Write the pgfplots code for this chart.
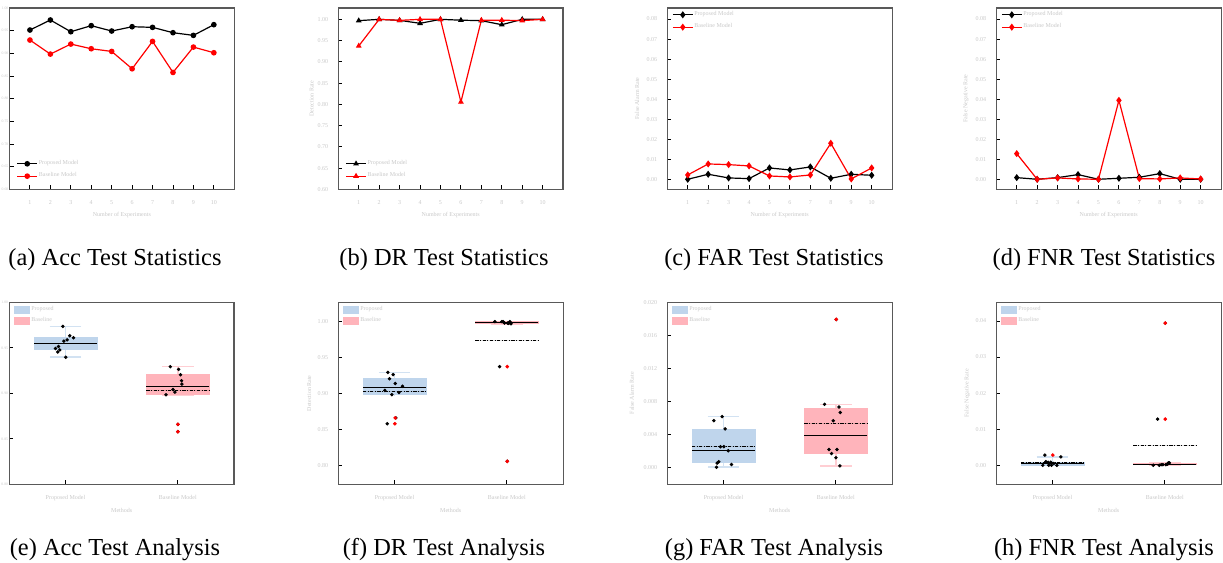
\documentclass[border=0pt]{standalone}
\usepackage{fontspec}
\setmainfont{Liberation Serif}
\usepackage{pgfplots}
\pgfplotsset{compat=1.18}
\usepgfplotslibrary{statistics}

\definecolor{boxblue}{RGB}{191,213,236}
\definecolor{whiskblue}{RGB}{210,226,242}
\definecolor{boxpink}{RGB}{255,180,187}
\definecolor{whiskpink}{RGB}{255,206,211}
\definecolor{faint}{RGB}{200,200,200}

\newcommand\tinyfont{\fontsize{3}{3.6}\selectfont}
\newcommand\microfont{\fontsize{1.9}{2.3}\selectfont}
\newcommand\capfont{\fontsize{12.2}{14}\selectfont}

\pgfplotsset{
  panel/.style={
    scale only axis, width=112.4pt, anchor=south west,
    axis line style={black!65, line width=0.6pt},
    tick align=inside, major tick length=2pt,
    tick style={black, line width=0.45pt},
    tick pos=left,
    scaled y ticks=false,
    ticklabel style={font=\tinyfont, text=faint},
    /pgf/number format/assume math mode=true,
    xticklabel style={yshift=-2pt},
    yticklabel style={xshift=-1.5pt},
    label style={font=\tinyfont, text=faint},
    legend style={font=\tinyfont, text=faint, draw=none, fill=none},
    legend cell align=left,
  },
  ytwo/.style={yticklabel style={/pgf/number format/fixed, /pgf/number format/precision=2,
    /pgf/number format/fixed zerofill}},
  ythree/.style={yticklabel style={/pgf/number format/fixed, /pgf/number format/precision=3,
    /pgf/number format/fixed zerofill}},
  edge/.style={yticklabel style={font=\microfont, inner sep=0pt, xshift=1.1pt}},
  lines/.style={panel, height=90.65pt,
    xmin=0, xmax=11, xtick={1,...,10},
    xlabel={Number of Experiments},
    xlabel style={at={(axis description cs:0.5,-0.143)}, anchor=center},
    ylabel style={at={(axis description cs:-0.118,0.5)}, anchor=center},
    legend image code/.code={\draw[mark repeat=2,mark phase=2] plot coordinates {(0pt,0pt)(5pt,0pt)(10pt,0pt)};},
    legend style={row sep=1.6pt, inner sep=0pt, nodes={inner sep=0.5pt}},
  },
  boxes/.style={panel, height=91pt,
    xmin=0.5, xmax=2.5, xtick={1,2},
    xticklabels={Proposed Model, Baseline Model},
    xlabel={Methods},
    xlabel style={at={(axis description cs:0.5,-0.141)}, anchor=center},
    ylabel style={at={(axis description cs:-0.13,0.5)}, anchor=center},
    legend image code/.code={\path[#1, draw=none] (0pt,-2pt) rectangle (8.3pt,2pt);},
    legend style={at={(0.018,0.985)}, anchor=north west, row sep=1pt, inner sep=0pt, nodes={inner sep=0.5pt}},
    boxplot/draw direction=y,
    boxplot/draw/average/.code={\draw[black, line width=0.5pt, dash pattern=on 1.6pt off 0.8pt on 0.4pt off 0.8pt]
      (boxplot box cs:\pgfplotsboxplotvalue{average},0) -- (boxplot box cs:\pgfplotsboxplotvalue{average},1);},
    boxplot/every median/.style={black, line width=0.6pt},
    boxplot/box extend=0.56, boxplot/whisker extend=0.28,
  },
  bluebox/.style={forget plot, fill=boxblue, draw=boxblue,
    boxplot/every whisker/.style={draw=whiskblue, line width=0.8pt}},
  pinkbox/.style={forget plot, fill=boxpink, draw=boxpink,
    boxplot/every whisker/.style={draw=whiskpink, line width=0.8pt}},
  pts/.style={forget plot, only marks, mark=*, mark size=0.65pt, black},
  outl/.style={forget plot, only marks, mark=*, mark size=0.7pt, red},
  blk/.style={black, line width=0.6pt, mark size=1.1pt},
  rd/.style={red, line width=0.6pt, mark size=1.1pt},
}

\begin{document}
\begin{tikzpicture}
\useasboundingbox (0,0) rectangle (611.5pt,281.5pt);

% ---------- top row: test statistics ----------
\begin{axis}[lines, ytwo, edge, at={(4.75pt,186.85pt)},
  ymin=0.6, ymax=1.0, ytick={0.6,0.65,0.7,0.75,0.8,0.85,0.9,0.95,1.0},
  legend style={at={(0.03,0.045)}, anchor=south west}]
\addplot[blk, mark=*] coordinates {(1,0.9514)(2,0.9735)(3,0.9477)(4,0.9610)(5,0.9492)(6,0.9587)(7,0.9573)(8,0.9455)(9,0.9396)(10,0.9632)};
\addlegendentry{Proposed Model}
\addplot[rd, mark=*] coordinates {(1,0.9293)(2,0.8983)(3,0.9204)(4,0.9101)(5,0.9042)(6,0.8659)(7,0.9263)(8,0.8578)(9,0.9138)(10,0.9013)};
\addlegendentry{Baseline Model}
\end{axis}

\begin{axis}[lines, ytwo, at={(169.15pt,186.85pt)},
  ymin=0.6, ymax=1.0267, ytick={0.6,0.65,0.7,0.75,0.8,0.85,0.9,0.95,1.0},
  ylabel={Detection Rate},
  legend style={at={(0.03,0.045)}, anchor=south west}]
\addplot[blk, mark=triangle*] coordinates {(1,0.9969)(2,1.0)(3,0.9976)(4,0.9906)(5,1.0)(6,0.998)(7,0.9969)(8,0.9874)(9,1.0)(10,1.0)};
\addlegendentry{Proposed Model}
\addplot[rd, mark=triangle*] coordinates {(1,0.9373)(2,1.0)(3,0.9976)(4,1.0)(5,1.0)(6,0.8055)(7,0.998)(8,0.998)(9,0.997)(10,1.0)};
\addlegendentry{Baseline Model}
\end{axis}

\begin{axis}[lines, ytwo, at={(333.65pt,186.85pt)},
  ymin=-0.005, ymax=0.0855, ytick={0,0.01,0.02,0.03,0.04,0.05,0.06,0.07,0.08},
  ylabel={False Alarm Rate},
  ylabel style={at={(axis description cs:-0.135,0.5)}},
  legend style={at={(0.02,0.99)}, anchor=north west}]
\addplot[blk, mark=diamond*, mark size=1.3pt] coordinates {(1,0)(2,0.0025)(3,0.00067)(4,0.00033)(5,0.00566)(6,0.00466)(7,0.00616)(8,0.0005)(9,0.0025)(10,0.002)};
\addlegendentry{Proposed Model}
\addplot[rd, mark=diamond*, mark size=1.3pt] coordinates {(1,0.00216)(2,0.00765)(3,0.00732)(4,0.00666)(5,0.00166)(6,0.00116)(7,0.00216)(8,0.01797)(9,0.00017)(10,0.00566)};
\addlegendentry{Baseline Model}
\end{axis}

\begin{axis}[lines, ytwo, at={(498.15pt,186.85pt)},
  ymin=-0.005, ymax=0.0855, ytick={0,0.01,0.02,0.03,0.04,0.05,0.06,0.07,0.08},
  ylabel={False Negative Rate},
  ylabel style={at={(axis description cs:-0.135,0.5)}},
  legend style={at={(0.02,0.99)}, anchor=north west}]
\addplot[blk, mark=diamond*, mark size=1.3pt] coordinates {(1,0.00083)(2,0)(3,0.00083)(4,0.00233)(5,0)(6,0.0005)(7,0.001)(8,0.00283)(9,0)(10,0)};
\addlegendentry{Proposed Model}
\addplot[rd, mark=diamond*, mark size=1.3pt] coordinates {(1,0.0128)(2,0)(3,0.00067)(4,0.00017)(5,0)(6,0.0394)(7,0.00033)(8,0.00017)(9,0.00067)(10,0.00017)};
\addlegendentry{Baseline Model}
\end{axis}

% ---------- bottom row: test analysis ----------
\begin{axis}[boxes, ytwo, edge, at={(4.65pt,39.35pt)},
  ymin=0.8, ymax=1.0, ytick={0.8,0.85,0.9,0.95,1.0}]
\addlegendimage{fill=boxblue}\addlegendentry{Proposed}
\addlegendimage{fill=boxpink}\addlegendentry{Baseline}
\addplot[bluebox, boxplot prepared={draw position=1, lower whisker=0.9396, lower quartile=0.9481,
  median=0.9544, average=0.9547, upper quartile=0.9611, upper whisker=0.9735}] coordinates {};
\addplot[pinkbox, boxplot prepared={draw position=2, lower whisker=0.8983, lower quartile=0.8985,
  median=0.9078, average=0.9027, upper quartile=0.9213, upper whisker=0.9293}] coordinates {};
\addplot[pts] coordinates {(0.976,0.9735)(1.038,0.9632)(1.071,0.9610)(1.015,0.9587)(0.985,0.9573)
  (0.938,0.9514)(0.911,0.9492)(0.949,0.9477)(0.931,0.9455)(1.003,0.9396)};
\addplot[pts] coordinates {(1.932,0.9293)(2.006,0.9263)(2.024,0.9204)(2.033,0.9138)(2.036,0.9101)
  (1.956,0.9042)(1.974,0.9013)(1.894,0.8983)(2.0,0.8659)(2.0,0.8578)};
\addplot[outl] coordinates {(2.0,0.8659)(2.0,0.8578)};
\end{axis}

\begin{axis}[boxes, ytwo, at={(169.15pt,39.35pt)},
  ymin=0.7735, ymax=1.0269, ytick={0.8,0.85,0.9,0.95,1.0},
  ylabel={Detection Rate}]
\addlegendimage{fill=boxblue}\addlegendentry{Proposed}
\addlegendimage{fill=boxpink}\addlegendentry{Baseline}
\addplot[bluebox, boxplot prepared={draw position=1, lower whisker=0.8983, lower quartile=0.8985,
  median=0.9078, average=0.9027, upper quartile=0.9213, upper whisker=0.9293}] coordinates {};
\addplot[pinkbox, boxplot prepared={draw position=2, lower whisker=0.997, lower quartile=0.9970,
  median=0.999, average=0.9733, upper quartile=1.0, upper whisker=1.0}] coordinates {};
\addplot[pts] coordinates {(0.941,0.9293)(0.988,0.9263)(0.955,0.9204)(1.006,0.9138)(1.071,0.9101)
  (0.914,0.9042)(1.039,0.9013)(0.976,0.8983)(1.012,0.8659)(0.935,0.8578)};
\addplot[pts] coordinates {(1.893,1.0)(1.955,1.0)(1.967,1.0)(2.027,1.0)(1.979,0.998)
  (2.006,0.998)(2.015,0.9976)(2.036,0.997)(1.935,0.9373)(2.003,0.8055)};
\addplot[outl] coordinates {(1.006,0.8659)(1.003,0.8578)(2.003,0.9373)(2.003,0.8055)};
\end{axis}

\begin{axis}[boxes, ythree, at={(333.65pt,39.35pt)},
  ymin=-0.00207, ymax=0.02005, ytick={0,0.004,0.008,0.012,0.016,0.02},
  ylabel={False Alarm Rate},
  ylabel style={at={(axis description cs:-0.158,0.5)}}]
\addlegendimage{fill=boxblue}\addlegendentry{Proposed}
\addlegendimage{fill=boxpink}\addlegendentry{Baseline}
\addplot[bluebox, boxplot prepared={draw position=1, lower whisker=0, lower quartile=0.00057,
  median=0.00207, average=0.0025, upper quartile=0.00462, upper whisker=0.00616}] coordinates {};
\addplot[pinkbox, boxplot prepared={draw position=2, lower whisker=0.00017, lower quartile=0.00166,
  median=0.00389, average=0.00526, upper quartile=0.00721, upper whisker=0.00765}] coordinates {};
\addplot[pts] coordinates {(0.988,0.00616)(0.914,0.00566)(1.015,0.00466)(0.973,0.0025)(1.003,0.0025)
  (1.042,0.002)(0.958,0.00067)(0.944,0.0005)(1.071,0.00033)(0.938,0)};
\addplot[pts] coordinates {(1.899,0.00765)(2.027,0.00732)(2.039,0.00666)(1.976,0.00566)(1.938,0.00216)
  (2.009,0.00216)(1.961,0.00166)(2.0,0.00116)(2.036,0.00017)(2.003,0.01797)};
\addplot[outl] coordinates {(2.003,0.01797)};
\end{axis}

\begin{axis}[boxes, ytwo, at={(498.15pt,39.35pt)},
  ymin=-0.00527, ymax=0.04517, ytick={0,0.01,0.02,0.03,0.04},
  ylabel={False Negative Rate}]
\addlegendimage{fill=boxblue}\addlegendentry{Proposed}
\addlegendimage{fill=boxpink}\addlegendentry{Baseline}
\addplot[bluebox, boxplot prepared={draw position=1, lower whisker=0, lower quartile=0,
  median=0.0006, average=0.00083, upper quartile=0.00085, upper whisker=0.00233}] coordinates {};
\addplot[pinkbox, boxplot prepared={draw position=2, lower whisker=0, lower quartile=0.00012,
  median=0.00025, average=0.00544, upper quartile=0.0006, upper whisker=0.00067}] coordinates {};
\addplot[pts] coordinates {(0.932,0.00283)(1.074,0.00233)(0.941,0.001)(0.985,0.00083)(0.961,0.00083)
  (1.012,0.0005)(0.914,0)(0.967,0)(0.991,0)(1.039,0)};
\addplot[pts] coordinates {(1.935,0.0128)(1.896,0)(1.950,0)(1.967,0.00017)(1.982,0.00017)
  (2.009,0.00017)(2.024,0.00033)(2.030,0.00067)(2.039,0.00067)(2.003,0.0394)};
\addplot[outl] coordinates {(1.003,0.00283)(2.003,0.0128)(2.003,0.0394)};
\end{axis}

% ---------- sub-captions ----------
\node[anchor=base, font=\capfont] at (57.5pt,148.5pt) {(a) Acc Test Statistics};
\node[anchor=base, font=\capfont] at (222pt,148.5pt) {(b) DR Test Statistics};
\node[anchor=base, font=\capfont] at (387pt,148.5pt) {(c) FAR Test Statistics};
\node[anchor=base, font=\capfont] at (552pt,148.5pt) {(d) FNR Test Statistics};
\node[anchor=base, font=\capfont] at (57.5pt,3.65pt) {(e) Acc Test Analysis};
\node[anchor=base, font=\capfont] at (222pt,3.65pt) {(f) DR Test Analysis};
\node[anchor=base, font=\capfont] at (387pt,3.65pt) {(g) FAR Test Analysis};
\node[anchor=base, font=\capfont] at (552pt,3.65pt) {(h) FNR Test Analysis};
\end{tikzpicture}
\end{document}
